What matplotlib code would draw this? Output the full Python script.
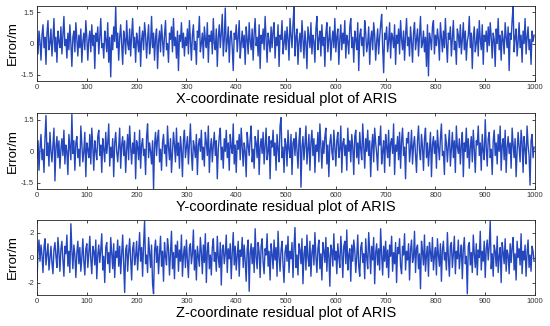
import numpy as np
import matplotlib.pyplot as plt

plt.rcParams['font.family'] = ['Liberation Sans', 'DejaVu Sans']

# sample index (every second epoch of 1000)
epochs = list(range(0, 1000, 2))

# X-coordinate residuals (m)
x_err = [
    0.2, -0.5, 0.6, 0.1, -0.8, 0.4, 0.9, -0.2, 0.3, -1.0, 0.5, 1.1, -0.3, 0.0, 0.7, -0.6, 0.2, 1.2, -0.4, 0.3, -0.9, 0.6, 0.1, -0.2, 0.8,
    -0.5, 0.4, 1.3, -0.1, 0.2, -0.7, 0.5, -0.3, 0.9, 0.0, -1.1, 0.3, 0.6, -0.4, 1.0, 0.2, -0.6, 0.4, -0.2, 0.7, -0.9, 0.1, 0.5, -0.3, 1.1,
    0.3, -0.8, 0.2, 0.6, -0.4, 0.9, -0.1, 0.4, -1.2, 0.5, 0.1, 0.8, -0.5, 0.3, 1.2, -0.2, 0.0, -0.7, 0.6, 0.2, -0.4, 1.0, -0.9, 0.3, -1.6,
    0.4, -0.3, 0.8, 0.1, 1.75, -0.2, 0.5, -0.8, 0.3, 0.9, -0.1, -1.0, 0.6, 0.2, -0.5, 1.1, 0.0, -0.3, 0.7, -0.6, 0.4, 1.2, -0.2, 0.3, -0.9,
    0.5, 0.1, -0.4, 0.8, -1.1, 0.2, 0.6, -0.3, 1.0, 0.4, -0.7, 0.2, 0.9, -0.5, 0.0, 1.3, -0.2, 0.5, -0.8, 0.3, 0.7, -1.2, 0.1, 0.6, -0.4,
    0.9, 0.2, -0.6, 0.4, 1.1, -0.3, 0.0, -0.9, 0.5, 0.2, 0.8, -0.4, 1.2, -0.1, 0.3, -0.7, 0.6, -1.3, 0.4, 0.1, 1.0, -0.2, 0.5, -0.6, 0.3,
    -0.1, 0.7, -0.5, 1.1, 0.2, -0.8, 0.4, 0.9, -0.3, 0.1, -1.0, 0.6, 0.3, 1.3, -0.4, 0.0, 0.5, -0.7, 0.8, 0.2, -0.2, 1.0, -0.9, 0.4, 0.1,
    0.6, -0.5, 1.2, 0.0, -0.3, 0.7, -1.1, 0.3, 0.9, -0.2, 0.5, 1.4, -0.6, 0.2, 1.7, -0.4, 0.1, 0.8, -0.9, 0.3, 0.6, -0.2, -1.3, 0.5, 0.2,
    0.9, -0.4, 0.3, 1.1, -0.7, 0.0, 0.6, -0.2, 0.4, -1.0, 0.8, 0.2, -0.5, 1.0, 0.1, -0.3, 0.7, -0.8, 0.5, 1.2, -0.1, 0.3, -0.6, 0.9, -1.2,
    0.4, 0.0, 0.7, -0.3, 1.3, 0.2, -0.9, 0.5, 0.1, -0.4, 0.8, -0.2, 0.6, 1.0, -0.7, 0.3, -0.1, 0.9, -1.1, 0.4, 0.2, 1.1, -0.5, 0.0, 0.6,
    -0.3, 0.8, 0.2, -0.8, 1.2, 0.4, -0.2, 0.9, 1.75, -0.6, 0.3, 0.7, -1.0, 0.1, 0.5, -0.4, 1.1, 0.2, -0.7, 0.6, 0.0, -1.2, 0.8, 0.3, -0.2,
    1.0, -0.5, 0.4, 0.1, -0.9, 0.7, 1.3, -0.3, 0.2, 0.6, -0.6, 0.9, -0.1, 0.3, -1.1, 0.5, 1.0, -0.4, 0.2, 0.8, -0.8, 0.1, 0.6, -0.2, 1.2,
    -0.4, 0.3, 0.7, -1.0, 0.2, 0.9, -0.3, 0.5, 0.0, 1.1, -0.7, 0.4, 0.1, -0.5, 0.8, 1.2, -0.2, 0.3, -0.9, 0.6, 0.2, -0.3, 1.0, -1.3, 0.4,
    0.7, -0.1, 0.3, -0.6, 1.1, 0.5, -0.4, 0.0, 0.8, -1.0, 0.2, 0.6, -0.3, 1.0, 0.4, -0.8, 0.1, 0.7, -0.5, 0.3, 0.9, 1.4, -0.2, -1.4, 0.5,
    0.2, 0.8, -0.4, 0.1, 1.0, -0.7, 0.5, 0.3, -0.2, 0.9, -1.0, 0.4, 0.0, 0.7, -0.5, 1.1, 0.2, -0.3, 0.6, -0.8, 0.4, 1.2, -0.1, 0.3, -0.6,
    0.8, 0.1, -0.9, 0.5, 1.0, -0.3, 0.2, 0.7, -0.6, 0.4, 1.3, -0.2, 0.0, 0.6, -0.4, 0.3, -1.1, 0.9, -1.55, 0.5, 0.2, -0.3, 0.8, 1.1, -0.5,
    0.4, -0.1, 0.7, 0.2, -0.8, 1.0, 0.3, -0.4, 0.6, -0.2, 1.2, 0.0, -0.9, 0.5, 0.2, 0.8, -0.6, 0.3, 1.1, -0.3, 0.1, -1.0, 0.7, 0.4, -0.2,
    0.9, -0.5, 0.2, 1.0, -0.3, 0.6, -0.8, 0.1, 0.4, 1.3, -0.2, 0.5, -1.2, 0.3, 0.8, -0.4, 0.0, 0.7, -0.6, 1.1, 0.2, -0.3, 0.9, -1.0, 0.4,
    0.1, 0.6, -0.4, 0.8, -0.1, 1.0, 0.3, -0.7, 0.5, 0.2, -1.1, 0.7, 0.0, 1.2, -0.3, 0.4, -0.8, 0.6, 0.2, -0.5, 1.0, 0.3, -0.2, 0.8, -1.3,
    0.5, 0.2, 1.1, 1.8, -0.4, 0.3, 0.7, -0.6, 0.1, 1.0, -0.2, 0.4, -0.9, 0.6, 0.0, 1.2, -0.5, 0.3, 0.8, -0.3, 0.2, -1.0, 0.6, 0.1, 0.4,
]

# Y-coordinate residuals (m)
y_err = [
    -0.3, 0.5, -0.9, 0.2, 0.8, -0.4, 0.1, -1.0, 0.6, 1.7, -0.2, 0.4, -0.7, 0.9, 0.0, -0.5, 0.3, 1.1, -1.4, 0.2, 0.7, -0.3, 0.5, -0.8, 0.1,
    0.6, -0.2, 1.0, -0.6, 0.3, 0.0, -1.1, 0.8, 0.2, -0.4, 1.75, -0.1, 0.5, -0.9, 0.4, 0.7, -0.3, 0.1, -0.7, 1.2, 0.3, -0.5, 0.0, 0.9, -1.2,
    0.4, 0.1, -0.3, 0.8, -0.6, 1.1, 0.2, -0.9, 0.5, 0.0, -0.4, 0.7, 1.0, -0.2, 0.3, -1.0, 0.6, 0.1, -0.5, 0.9, -0.1, 0.4, 1.3, -0.7, 0.2,
    -0.3, 0.6, -1.2, 0.4, 0.9, 0.0, -0.5, 0.2, 1.1, -0.8, 0.3, 0.7, -0.2, 0.5, -1.0, 0.1, 0.8, -0.4, 1.2, 0.2, -0.6, 0.4, -0.1, 0.9, -1.3,
    0.5, 0.2, -0.4, 1.0, -0.8, 0.3, 0.6, -0.2, 0.1, -1.1, 0.7, 1.3, -0.3, 0.4, 0.0, -0.6, 0.5, -1.8, 0.3, 0.9, -0.2, 0.6, 1.0, -0.5, 0.1,
    -0.9, 0.4, 0.8, -0.1, 0.3, -0.7, 1.2, 0.2, -0.4, 0.6, -1.0, 0.0, 0.9, 0.3, -0.5, 1.1, -0.2, 0.4, -0.8, 0.7, 0.1, -1.2, 0.5, 1.0, -0.3,
    0.2, 0.7, -0.6, 0.4, 1.3, -0.1, -0.9, 0.5, 0.2, -0.3, 0.8, -1.1, 0.3, 0.6, 0.0, 1.0, -0.4, 0.2, -0.7, 0.9, 0.4, -0.2, 1.2, -1.0, 0.1,
    0.6, -0.5, 0.3, 0.9, -0.2, 0.5, -1.3, 0.1, 0.7, 1.1, -0.4, 0.2, -0.8, 0.6, 0.0, 1.0, -0.3, 0.4, -0.9, 0.8, 0.2, -0.1, 1.3, -0.6, 0.3,
    -1.0, 0.5, 0.1, 0.8, -0.4, 1.1, 0.2, -0.7, 0.4, 0.0, -1.2, 0.9, 0.3, -0.2, 0.6, 1.2, -0.5, 0.1, -0.8, 0.7, 0.4, -0.3, 1.0, -1.1, 0.2,
    0.6, -0.1, 0.9, -0.6, 0.3, 1.1, -0.4, 0.0, 0.7, -1.3, 0.5, 0.2, 1.0, -0.2, 0.4, -0.9, 0.8, 0.1, -0.5, 1.2, 1.6, -0.3, 0.2, -1.0, 0.6,
    0.3, -0.7, 1.0, 0.1, -0.3, 0.8, -1.1, 0.4, 0.6, -0.2, 0.9, 0.0, -0.8, 0.5, 1.1, -1.7, 0.2, 0.7, -0.4, 0.3, 1.2, -0.6, 0.1, 0.8, -0.9,
    0.4, 1.0, -0.2, 0.6, -1.0, 0.3, 0.0, 0.9, -0.5, 1.3, 0.2, -0.8, 0.5, -0.1, 0.7, 1.1, -0.6, 0.3, -1.2, 0.4, 0.8, 0.0, -0.4, 1.0, 0.2,
    -0.7, 0.5, 0.9, -0.3, 0.1, 1.2, -1.0, 0.4, 0.6, -0.2, 0.3, -0.9, 1.1, 0.0, 0.5, -0.5, 0.8, 0.2, -1.1, 0.7, 1.0, -0.3, 0.4, -0.6, 0.9,
    0.1, -0.4, 1.3, 0.3, -0.8, 0.6, 0.0, 1.0, -0.2, 0.5, -1.2, 0.2, 0.8, -0.5, 1.1, 0.4, -0.1, -0.9, 0.7, 0.3, 1.2, -0.6, 0.0, 0.5, -1.0,
    0.8, 0.2, -0.3, 1.0, -0.7, 0.4, 0.6, -0.1, 1.3, -1.1, 0.3, 0.0, 0.7, -0.4, 0.9, -0.8, 0.5, 1.1, -0.2, 0.2, -1.3, 0.6, 0.4, 0.9, -0.5,
    0.1, 1.0, -0.6, 0.3, 0.7, -0.2, -1.0, 0.5, 1.2, 0.0, -0.4, 0.8, 0.2, -0.9, 0.6, 1.1, -0.3, 0.4, -0.7, 0.1, 0.9, -1.2, 0.3, 0.7, -0.1,
    0.5, -0.8, 1.0, 0.2, -0.4, 0.6, 1.3, -0.2, 0.0, -1.1, 0.8, 0.4, -0.5, 0.3, 1.0, -0.7, 0.1, 0.9, -0.3, 0.5, -1.0, 1.2, 0.2, -0.1, 0.6,
    -0.6, 0.3, 0.9, -1.2, 0.4, 0.0, 1.1, -0.3, 0.6, -0.8, 0.2, 0.7, -0.5, 1.0, 0.1, -1.0, 0.5, 0.3, 1.2, -0.2, 0.4, -0.9, 0.8, 0.0, -0.4,
    1.5, 0.2, -0.7, 0.6, 0.9, -0.3, 0.1, -1.1, 0.5, 1.0, -0.2, 0.4, -0.6, 0.8, 0.0, 1.2, -0.9, 0.3, 0.6, -0.4, 1.0, -1.0, 0.2, 0.7, -0.1,
    0.4, -0.8, 1.1, 0.3, -0.3, 0.6, -1.2, 0.0, 0.9, 0.2, -0.5, 1.0, 0.4, -1.0, 0.7, 0.1, -0.6, 1.2, 0.3, -0.2, -1.6, 0.5, 0.8, -0.3, 0.2,
]

# Z-coordinate residuals (m)
z_err = [
    -1.8, 0.5, 1.4, -0.3, 1.0, 0.2, -1.2, 0.8, 1.5, -0.6, 0.3, 1.1, -1.0, 0.0, 0.9, -0.4, -1.3, 0.6, 1.2, 0.1, -0.8, 1.6, 0.4, -1.1, 0.7,
    1.3, -0.2, -1.5, 0.9, 0.3, 1.8, -0.7, 0.5, -1.2, 2.7, 0.6, -0.9, 1.0, 0.2, -1.6, 0.4, 1.3, -0.5, 0.8, -1.1, 0.0, 1.5, -0.3, -1.4, 0.7,
    1.1, -0.8, 0.3, 1.7, -0.2, -1.3, 0.9, 0.5, -0.6, 1.4, -1.7, 0.2, 1.0, -0.4, 0.6, 1.9, -1.0, 0.1, -2.0, 0.8, 1.2, -0.5, 0.4, -1.2, 1.6,
    0.3, -0.9, 1.1, -1.6, 0.5, 0.0, 1.4, -0.7, 0.9, -1.3, 0.2, 1.8, -0.4, -2.8, 0.6, 1.0, -1.1, 0.4, 1.5, -0.2, -1.8, 0.7, 1.2, -0.6, 0.1,
    1.3, -1.0, 0.5, 2.0, -0.3, 0.8, -1.5, 1.1, 2.9, -0.5, 0.2, -1.2, 1.6, 0.4, -0.8, 1.0, -2.1, -2.9, 0.6, 1.4, -0.4, 0.9, -1.3, 0.3, 1.7,
    -0.7, 0.5, -1.9, 1.2, 0.1, -0.6, 1.5, 0.7, -1.4, 0.3, 2.1, -0.9, 0.4, -1.7, 1.0, 0.0, 1.3, -1.1, 0.6, -0.3, 1.8, -1.5, 0.2, 0.9, -0.8,
    1.4, -0.2, -1.6, 0.8, 1.1, -0.5, 0.3, 2.2, -1.0, 0.6, -1.8, 0.9, 0.1, -0.7, 1.6, 0.4, -1.3, 1.0, -0.4, 1.9, -2.0, 0.5, 1.2, -0.9, 0.2,
    -1.4, 0.8, 1.5, -0.3, 0.4, -1.1, 1.7, 0.0, -0.8, 1.2, -2.2, 0.6, 1.0, -0.5, 0.3, 1.8, -1.2, 0.7, -0.1, 1.1, -1.7, 0.4, 2.0, -0.6, 0.9,
    -1.0, 0.2, 1.3, -1.5, 0.6, 0.1, 1.6, -0.8, 1.0, -0.3, -1.9, 0.7, 1.4, -2.7, 0.3, 1.1, -0.5, 0.8, -1.2, 2.3, 0.0, -0.9, 1.2, 0.4, -1.6,
    0.9, 1.5, -0.4, -1.3, 0.7, 0.2, 1.9, -0.7, 0.5, -1.8, 1.1, 0.3, -0.9, 1.4, -0.2, 0.8, -1.5, 2.1, 0.1, -1.1, 0.6, 1.3, -0.6, -2.0, 0.4,
    1.0, -0.3, 1.7, -1.2, 0.5, -0.1, 1.2, -1.6, 0.8, 2.4, -0.8, 0.2, -1.4, 1.1, 0.6, -0.5, 1.5, -2.1, 0.3, 0.9, -1.0, 1.8, 0.0, -0.7, 1.3,
    -1.5, 0.4, 1.0, -0.6, 2.0, 0.1, -1.2, 0.7, 1.4, -0.9, 0.3, -1.8, 1.2, 0.5, -0.4, 1.6, -1.1, 0.8, 0.2, -2.3, 1.0, 0.6, -0.7, 1.9, -0.2,
    0.5, -1.3, 1.1, 0.0, -0.8, 1.7, 0.4, -1.6, 0.9, 1.3, -0.5, 2.2, -1.0, 0.2, 0.7, -1.9, 1.0, -0.3, 1.4, 0.6, -1.2, 0.1, 1.8, -0.7, -1.5,
    0.8, 1.2, -0.4, 0.3, -1.7, 1.5, 0.0, -0.9, 2.0, 0.5, -1.3, 0.9, -0.2, 1.6, -2.1, 0.4, 1.1, -0.6, 0.7, -1.0, 2.3, 0.2, -1.4, 0.9, -0.3,
    1.3, -0.8, 0.6, -1.6, 1.0, 0.1, 1.7, -1.1, 0.4, -0.5, 1.2, -2.0, 0.8, 0.3, 1.5, -0.7, -1.3, 0.9, 0.2, 1.9, -1.0, 0.5, -0.2, 1.1, -1.8,
    0.6, 1.4, -0.4, 0.0, 2.1, -1.2, 0.7, 1.0, -0.9, 0.3, -2.5, 1.3, 0.5, -0.6, 1.8, -1.1, 0.2, 0.9, -1.5, 1.2, 0.4, -0.3, 1.6, -1.0, 0.1,
    0.8, -1.4, 1.5, 0.2, -0.7, 1.1, -1.9, 0.6, 1.3, -0.2, 0.4, -1.0, 2.0, 0.0, -1.5, 0.9, 1.2, -0.8, 0.3, 1.7, -1.3, 0.5, -0.1, 1.4, -0.9,
    0.2, 1.0, -1.7, 0.7, 1.6, -0.5, 0.1, -2.9, 0.9, 1.2, -0.6, 0.4, -1.2, 1.8, 0.3, -0.8, 1.1, -1.4, 0.6, 0.0, 2.1, -1.0, 0.5, -0.3, 1.3,
    -1.6, 0.7, 1.4, -0.2, 0.9, 2.9, -0.9, 0.3, -1.5, 1.0, 0.5, -0.7, 1.7, -1.2, 0.1, 0.8, -2.0, 1.2, 0.4, -0.5, 1.5, -1.1, 0.6, 0.2, -1.3,
    1.1, -0.4, 0.8, 1.6, -1.0, 0.3, -1.8, 1.3, 0.0, 0.7, -0.6, 1.9, -1.3, 0.5, -0.2, 1.0, -1.5, 0.4, 1.4, -0.8, 0.2, -1.1, 0.9, 0.5, -0.3,
]

titles = ['X-coordinate residual plot of ARIS',
          'Y-coordinate residual plot of ARIS',
          'Z-coordinate residual plot of ARIS']
ylims = [(-1.8, 1.8), (-1.8, 1.8), (-3, 3)]
yticks = [[-1.5, 0, 1.5], [-1.5, 0, 1.5], [-2, 0, 2]]
yticklabels = [['-1.5', '0', '1.5'], ['-1.5', '0', '1.5'], ['-2', '0', '2']]
xticks = list(range(0, 1001, 100))

fig = plt.figure(figsize=(5.5, 3.26), dpi=100)
# axes boxes in figure fractions (left, bottom, width, height)
boxes = [(0.0673, 0.7515, 0.9055, 0.230),
         (0.0673, 0.4193, 0.9055, 0.233),
         (0.0673, 0.0951, 0.9055, 0.230)]

for i, series in enumerate([x_err, y_err, z_err]):
    ax = fig.add_axes(boxes[i])
    ax.plot(epochs, series, color='#2447bd', lw=1.0)
    ax.set_xlim(0, 1000)
    ax.set_ylim(*ylims[i])
    ax.set_xticks(xticks)
    ax.set_yticks(yticks[i])
    ax.set_yticklabels(yticklabels[i])
    ax.tick_params(direction='in', top=True, right=True, length=2.5, width=0.5,
                   labelsize=5.5, labelcolor='#333333', pad=2)
    for s in ax.spines.values():
        s.set_linewidth(0.6)
        s.set_color('#222222')
    ax.set_xlabel(titles[i], fontsize=10.5, labelpad=1)
    ax.set_ylabel('Error/m', fontsize=9.5)
    ax.yaxis.set_label_coords(-0.036, 0.5)

fig.savefig('out.png', dpi=100)
